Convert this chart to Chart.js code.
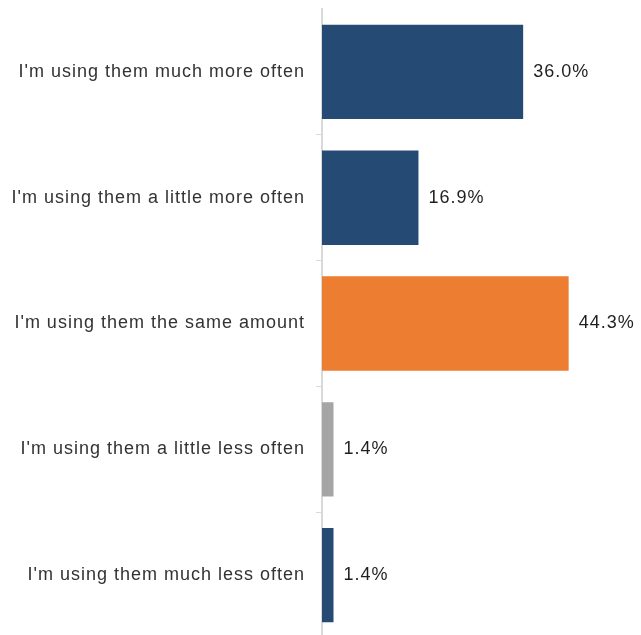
<!DOCTYPE html>
<html>
<head>
<meta charset="utf-8">
<script src="https://cdn.jsdelivr.net/npm/chart.js@4"></script>
<style>
  html, body { margin: 0; padding: 0; background: #fff; overflow: hidden; }
  #wrap { width: 641px; height: 640px; }
</style>
</head>
<body>
<div id="wrap"><canvas id="myChart" width="641" height="640"></canvas></div>
<script>
const categories = [
  "I'm using them much more often",
  "I'm using them a little more often",
  "I'm using them the same amount",
  "I'm using them a little less often",
  "I'm using them much less often"
];
const shares = [36.0, 16.9, 44.3, 1.4, 1.4];
const barColors = ['#254A74', '#254A74', '#ED7D31', '#A5A5A5', '#254A74'];

const axisMin = -0.7;
const axisMax = 57.5;

Chart.defaults.font.family = "'Liberation Sans', Arial, sans-serif";

// canvas text in this chart is drawn slightly spaced out
const spacing = {
  id: 'spacing',
  beforeLayout(chart) { chart.ctx.letterSpacing = '1px'; },
  beforeDraw(chart) { chart.ctx.letterSpacing = '1px'; }
};

// percentage written to the right of each bar
const valueLabels = {
  id: 'valueLabels',
  afterDatasetsDraw(chart) {
    const ctx = chart.ctx;
    const meta = chart.getDatasetMeta(0);
    ctx.save();
    ctx.font = "18px 'Liberation Sans', Arial, sans-serif";
    ctx.fillStyle = '#1f1f1f';
    ctx.textAlign = 'left';
    ctx.textBaseline = 'middle';
    meta.data.forEach((bar, i) => {
      ctx.fillText(shares[i].toFixed(1) + '%', bar.x + 10, bar.y);
    });
    ctx.restore();
  }
};

const ctx = document.getElementById('myChart');

new Chart(ctx, {
  type: 'bar',
  data: {
    labels: categories,
    datasets: [{
      data: shares,
      backgroundColor: barColors,
      base: axisMin,
      barPercentage: 0.75,
      categoryPercentage: 1
    }]
  },
  options: {
    indexAxis: 'y',
    responsive: false,
    animation: false,
    layout: { padding: { top: 9, bottom: 2, left: 0, right: 0 } },
    plugins: {
      legend: { display: false },
      tooltip: { enabled: false }
    },
    scales: {
      x: {
        display: false,
        min: axisMin,
        max: axisMax
      },
      y: {
        afterFit(scale) {
          scale.width = 322;
          scale.paddingTop = 0;
          scale.paddingBottom = 0;
        },
        border: { display: true, color: '#D9D9D9', width: 2 },
        grid: {
          offset: true,
          drawOnChartArea: false,
          drawTicks: true,
          tickLength: 6,
          tickWidth: 1,
          tickColor: c => c.index === 0 ? 'rgba(0,0,0,0)' : '#D9D9D9'
        },
        ticks: {
          padding: 11,
          color: '#333333',
          font: { size: 18 }
        }
      }
    }
  },
  plugins: [spacing, valueLabels]
});
</script>
</body>
</html>
